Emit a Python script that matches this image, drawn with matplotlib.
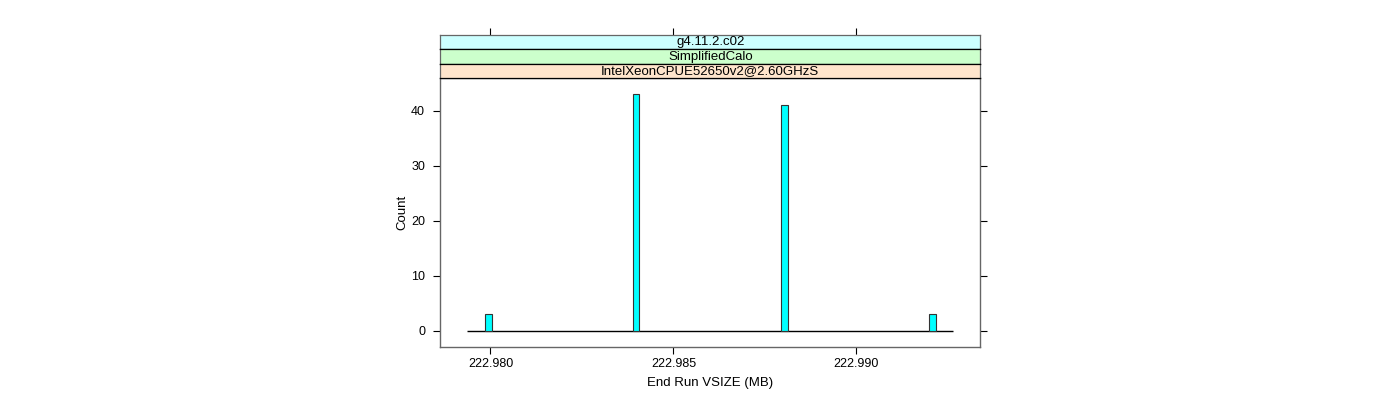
import matplotlib
matplotlib.use("Agg")
import matplotlib.pyplot as plt

# Data
bin_centers = [222.97995, 222.98398, 222.98803, 222.99208]
counts = [3, 43, 41, 3]
bin_width = 0.000183
hist_range = [222.979366, 222.992652]
strip_labels = ["g4.11.2.c02", "SimplifiedCalo", "IntelXeonCPUE52650v2@2.60GHzS"]
strip_colors = ["#ccffff", "#ccffcc", "#ffe5cc"]
xticks = [222.980, 222.985, 222.990]
xtick_labels = ["222.980", "222.985", "222.990"]
yticks = [0, 10, 20, 30, 40]
xlim = (222.978628, 222.993390)
ylim = (-2.97, 45.9)

plt.rcParams['font.family'] = ['Liberation Sans', 'DejaVu Sans']
W, H = 1400, 400
fig = plt.figure(figsize=(14, 4), dpi=100)

def fx(px):
    return px / W
def fy(py):
    return 1 - py / H

left, right = 440.3, 980.3
ptop, pbot = 78.0, 347.3
ax = fig.add_axes([fx(left), fy(pbot), fx(right - left), fy(ptop) - fy(pbot)])
ax.hlines(0, hist_range[0], hist_range[1], color='black', linewidth=1, zorder=2)
ax.bar(bin_centers, counts, width=bin_width, color='#00ffff', edgecolor='#333333',
       linewidth=0.8, zorder=3)
ax.set_xlim(*xlim)
ax.set_ylim(*ylim)
ax.set_xticks(xticks)
ax.set_xticklabels(xtick_labels)
ax.set_yticks(yticks)
ax.tick_params(axis='both', direction='out', length=5, width=0.8, labelsize=9,
               colors='black', pad=6)
ax.tick_params(axis='x', pad=3)
ax.tick_params(axis='y', right=True, labelright=False)
for s in ax.spines.values():
    s.set_color('#666666')
    s.set_linewidth(1.0)
ax.set_xlabel("End Run VSIZE (MB)", fontsize=9.5, labelpad=5)
ax.set_ylabel("Count", fontsize=9.5, labelpad=2)

# Strips (top to bottom)
bounds = [34.7, 49.3, 64.0, 78.0]
for i, (lab, col) in enumerate(zip(strip_labels, strip_colors)):
    t, b = bounds[i], bounds[i + 1]
    sax = fig.add_axes([fx(left), fy(b), fx(right - left), fy(t) - fy(b)])
    sax.set_facecolor(col)
    sax.set_xlim(*xlim)
    sax.set_ylim(0, 1)
    sax.set_yticks([])
    sax.text(0.5, 0.5, lab, ha='center', va='center', fontsize=9.5,
             transform=sax.transAxes)
    for s in sax.spines.values():
        s.set_color('black')
        s.set_linewidth(0.9)
    sax.spines['left'].set_color('#666666')
    sax.spines['right'].set_color('#666666')
    if i == 0:
        sax.spines['top'].set_color('#666666')
        sax.set_xticks(xticks)
        sax.tick_params(axis='x', top=True, bottom=False, labeltop=False,
                        labelbottom=False, direction='out', length=5, width=0.8)
    else:
        sax.set_xticks([])

fig.savefig("out.png", dpi=100)
